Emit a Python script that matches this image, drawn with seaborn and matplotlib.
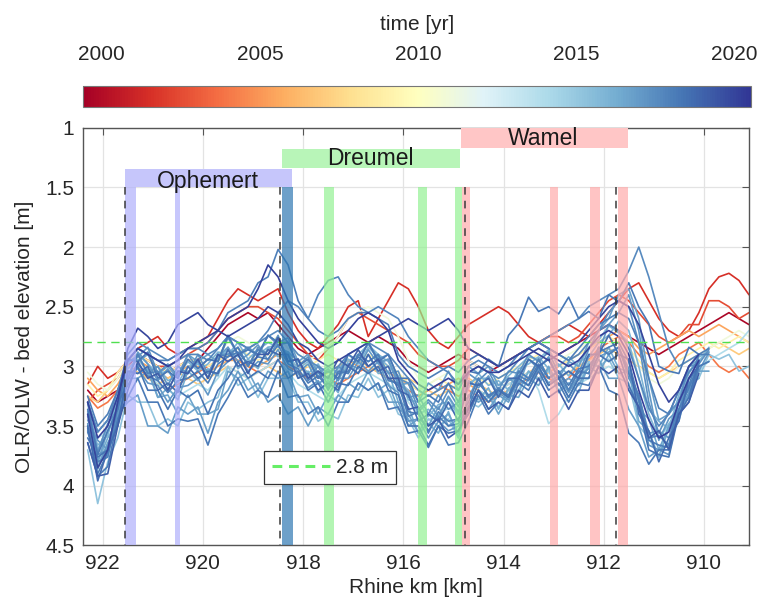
import numpy as np
import pandas as pd
import matplotlib
matplotlib.use("Agg")
import matplotlib.pyplot as plt
import seaborn as sns
from matplotlib.lines import Line2D
from matplotlib.colors import Normalize
from matplotlib.cm import ScalarMappable

N = np.nan

# ---------------- data ----------------
km = [922.3, 922.1, 921.9, 921.7, 921.5, 921.3, 921.1, 920.9, 920.7, 920.5, 920.3,
      920.1, 919.9, 919.7, 919.5, 919.3, 919.1, 918.9, 918.7, 918.5, 918.3,
      918.1, 917.9, 917.7, 917.5, 917.3, 917.1, 916.9, 916.7, 916.5, 916.3,
      916.1, 915.9, 915.7, 915.5, 915.3, 915.1, 914.9, 914.7, 914.5, 914.3,
      914.1, 913.9, 913.7, 913.5, 913.3, 913.1, 912.9, 912.7, 912.5, 912.3,
      912.1, 911.9, 911.7, 911.5, 911.3, 911.1, 910.9, 910.7, 910.5, 910.3,
      910.1, 909.9, 909.7, 909.5, 909.3, 909.1]

years = [1999.7, 2001.5, 2002.5, 2004.0, 2005.5, 2007.0, 2009.0, 2011.0, 2014.0,
         2016.6, 2015.2, 2017.0, 2017.4, 2018.2, 2017.8, 2018.0, 2016.3, 2017.6,
         2017.9, 2018.3, 2018.7, 2020.0, 2019.2, 2016.8, 2017.3, 2020.2, 2016.9,
         2018.4, 2016.0, 2017.1, 2015.9, 2018.1]

depth = [
 # 1999.7
 [3.20, 3.30, 3.25, 3.20, 3.00, 2.90, 2.95, 3.00, 3.05, 3.00, 2.95,
  2.95, 2.85, 2.75, 2.65, 2.60, 2.55, 2.60, 2.55, 2.65, 2.75,
  2.85, 2.90, 2.85, 2.80, 2.75, 2.70, 2.75, 2.80, 2.75, 2.80,
  2.85, 2.95, 3.00, 3.05, 3.00, 2.95, 2.90, 2.95, 3.00, 3.05,
  3.00, 2.95, 2.90, 2.85, 2.80, 2.85, 2.90, 2.85, 2.80, 2.75,
  2.70, 2.65, 2.70, 2.75, 2.80, 2.85, 2.90, 2.85, 2.80, 2.75,
  2.70, 2.65, 2.60, 2.55, 2.60, 2.65],
 # 2001.5
 [3.15, 3.00, 3.10, 3.05, 2.95, 2.85, 2.80, 2.75, 2.85, 2.90, 2.85,
  2.80, 2.75, 2.60, 2.45, 2.35, 2.40, 2.45, 2.40, 2.35, 2.55,
  2.70, 2.80, 2.85, 2.75, 2.65, 2.50, 2.45, 2.75, 2.60, 2.45,
  2.30, 2.35, 2.50, 2.70, 2.80, 2.85, 2.75, 2.65, 2.60, 2.55,
  2.50, 2.55, 2.65, 2.75, 2.80, 2.75, 2.70, 2.65, 2.70, 2.75,
  2.65, 2.55, 2.45, 2.35, 2.30, 2.45, 2.60, 2.70, 2.75, 2.70,
  2.55, 2.35, 2.25, 2.22, 2.28, 2.40],
 # 2002.5
 [3.30, 3.20, 3.15, 3.10, 2.95, 2.90, 2.95, 3.00, 3.00, 2.95, 2.90,
  2.85, 2.80, 2.70, 2.60, 2.55, 2.50, 2.50, 2.55, 2.60, 2.70,
  2.80, 2.90, 2.95, 2.85, 2.75, 2.60, 2.55, 2.60, 2.65, 2.70,
  2.75, 2.80, 2.90, 2.95, 3.00, 3.00, 2.95, 2.85, 2.90, 2.95,
  3.00, 2.95, 2.90, 2.85, 2.80, 2.75, 2.75, 2.80, 2.75, 2.65,
  2.55, 2.45, 2.40, 2.45, 2.55, 2.65, 2.75, 2.80, 2.75, 2.65,
  2.65, 2.45, 2.45, 2.50, 2.60, 2.55],
 # 2004.0
 [3.25, 3.35, 3.30, 3.20, 3.05, 3.00, 3.10, 3.15, 3.20, 3.15, 3.10,
  3.05, 3.00, 2.95, 2.90, 2.95, 3.00, 3.05, 3.00, 2.95, 3.00,
  3.05, 3.10, 3.05, 3.10, 3.15, 3.10, 3.05, 3.00, 3.05, 3.10,
  3.15, 3.20, 3.25, 3.20, 3.15, 3.20, 3.25, 3.20, 3.25, 3.30,
  3.25, 3.20, 3.15, 3.10, 3.05, 3.10, 3.15, 3.10, 3.00, 2.95,
  2.85, 2.80, 2.75, 2.80, 2.90, 3.00, 3.05, 3.00, 2.90, 2.85,
  2.80, 2.90, 3.00, 3.05, 3.00, 3.10],
 # 2005.5
 [3.10, 3.20, 3.25, 3.15, 3.00, 2.95, 3.00, 3.05, 3.10, 3.05, 3.00,
  3.00, 3.05, 3.00, 2.95, 2.95, 3.00, 3.00, 2.95, 2.90, 2.95,
  3.00, 3.05, 3.10, 3.05, 3.00, 2.95, 3.00, 3.05, 3.00, 3.05,
  3.10, 3.15, 3.20, 3.25, 3.20, 3.15, 3.10, 3.15, 3.20, 3.25,
  3.20, 3.15, 3.10, 3.05, 3.10, 3.05, 3.00, 2.95, 2.90, 2.85,
  2.80, 2.75, 2.70, 2.75, 2.85, 2.90, 2.85, 2.80, 2.75, 2.70,
  2.75, 2.70, 2.65, 2.70, 2.75, 2.80],
 # 2007.0
 [3.25, 3.30, 3.20, 3.10, 3.00, 3.05, 3.10, 3.15, 3.10, 3.05, 3.10,
  3.15, 3.10, 3.05, 3.00, 3.05, 3.10, 3.05, 3.00, 3.05, 3.10,
  3.05, 3.00, 3.05, 3.10, 3.05, 3.00, 2.95, 3.00, 3.05, 3.10,
  3.15, 3.10, 3.15, 3.20, 3.25, 3.20, 3.15, 3.10, 3.15, 3.20,
  3.25, 3.20, 3.10, 3.05, 3.00, 3.05, 3.10, 3.05, 3.00, 2.95,
  2.90, 2.85, 2.90, 2.95, 3.00, 3.05, 3.10, 3.05, 3.00, 2.95,
  2.90, 2.85, 2.80, 2.85, 2.90, 2.85],
 # 2009.0
 [3.15, 3.25, 3.20, 3.05, 2.95, 2.90, 2.95, 3.00, 3.05, 3.00, 2.95,
  2.95, 3.00, 2.95, 2.90, 2.85, 2.90, 2.95, 2.90, 2.85, 2.90,
  2.95, 3.00, 2.95, 2.90, 2.95, 3.00, 2.95, 2.90, 2.95, 3.00,
  3.05, 3.15, 3.20, 3.15, 3.10, 3.15, 3.20, 3.15, 3.10, 3.15,
  3.10, 3.05, 3.00, 2.95, 2.90, 2.95, 3.00, 2.95, 2.90, 2.85,
  2.80, 2.75, 2.80, 2.85, 2.95, 3.05, 3.10, 3.05, 2.95, 2.90,
  2.85, 2.80, 2.85, 2.80, 2.75, 2.80],
 # 2011.0
 [3.05, 3.15, 3.20, 3.10, 2.95, 2.85, 2.90, 2.95, 3.00, 2.95, 2.90,
  2.90, 2.95, 2.90, 2.80, 2.75, 2.80, 2.85, 2.80, 2.75, 2.85,
  2.90, 2.95, 2.90, 2.85, 2.75, 2.60, 2.55, 2.50, 2.55, 2.60,
  2.75, 2.95, 3.10, 3.15, 3.10, 3.05, 3.00, 2.95, 3.00, 3.05,
  3.05, 3.00, 2.95, 2.90, 2.85, 2.90, 2.95, 2.90, 2.85, 2.80,
  2.75, 2.80, 2.85, 2.90, 3.00, 3.10, 3.15, 3.10, 3.00, 2.95,
  2.90, 2.85, 2.80, 2.75, 2.70, 2.75],
 # 2014.0
 [3.40, 3.60, 3.55, 3.35, 3.10, 3.00, 3.05, 3.15, 3.20, 3.25, 3.20,
  3.15, 3.20, 3.10, 3.00, 3.05, 3.10, 3.05, 3.00, 2.95, 3.05,
  3.15, 3.20, 3.25, 3.30, 3.25, 3.15, 3.10, 3.05, 3.10, 3.15,
  3.20, 3.30, 3.40, 3.45, 3.40, 3.35, 3.40, 3.25, 3.20, 3.25,
  3.20, 3.15, 3.10, 3.05, 3.20, 3.48, 3.40, 3.25, 3.15, 3.10,
  3.05, 3.00, 3.05, 3.15, 3.35, 3.55, 3.60, 3.50, 3.30, 3.15,
  3.05, 2.95, 2.90, 2.85, 2.80, 2.70],
 # 2016.6
 [3.50, 3.84, 3.64, 3.50, 3.10, 3.10, 3.04, 3.26, 3.24, 3.40, 3.24,
  3.40, 3.40, 3.36, 3.04, 3.10, 3.04, 3.20, 3.04, 3.10, 3.04,
  3.26, 3.24, 3.40, 3.24, 3.30, 3.14, 3.20, 3.04, 3.20, 3.14,
  3.36, 3.40, 3.56, 3.40, 3.46, 3.40, 3.56, 3.24, 3.30, 3.24,
  3.40, 3.24, 3.26, 3.10, 3.16, 3.00, 3.16, 3.10, 3.16, 3.00,
  3.06, 2.90, 3.06, 3.04, 3.36, 3.44, 3.70, 3.50, 3.40, 3.24,
  3.04, 3.04, N, N, N, N],
 # 2015.2
 [3.70, 4.15, 3.80, 3.60, 3.24, 3.30, 3.30, 3.50, 3.44, 3.50, 3.30,
  3.36, 3.30, 3.26, 3.00, 3.16, 3.10, 3.26, 3.10, 3.10, 3.10,
  3.30, 3.30, 3.46, 3.40, 3.44, 3.24, 3.26, 3.10, 3.26, 3.20,
  3.40, 3.44, 3.60, 3.44, 3.50, 3.44, 3.60, 3.30, 3.34, 3.26,
  3.34, 3.20, 3.20, 3.04, 3.10, 3.04, 3.20, 3.14, 3.16, 2.96,
  3.00, 2.94, 3.10, 3.14, 3.50, 3.60, 3.76, 3.50, 3.40, 3.16,
  3.10, 2.90, 2.94, 2.90, 3.04, 3.00],
 # 2017.0
 [3.45, 3.62, 3.70, 3.30, 3.10, 2.88, 2.98, 3.12, 3.02, 3.18, 3.05,
  2.96, 3.10, 2.92, 2.84, 2.96, 2.90, 2.82, 2.95, 2.78, 2.92,
  3.05, 2.98, 3.15, 3.08, 3.18, 2.98, 3.02, 2.86, 2.98, 2.94,
  3.14, 3.22, 3.38, 3.30, 3.42, 3.25, 3.38, 3.12, 3.18, 3.08,
  3.24, 3.12, 3.08, 2.94, 3.02, 2.92, 3.10, 3.04, 3.12, 2.92,
  2.88, 2.65, 2.55, 2.40, 2.70, 3.20, 3.62, 3.44, 3.36, 3.10,
  3.04, 2.88, N, N, N, N],
 # 2017.4
 [3.30, 3.72, 3.48, 3.36, 2.96, 2.92, 2.84, 3.06, 2.98, 3.08, 2.90,
  3.02, 2.94, 2.96, 2.76, 2.90, 2.84, 2.92, 2.74, 2.82, 2.80,
  3.00, 2.92, 3.10, 3.02, 3.12, 2.90, 2.96, 2.80, 2.94, 2.90,
  3.10, 3.14, 3.36, 3.28, 3.36, 3.20, 3.34, 3.06, 3.12, 3.04,
  3.20, 3.04, 3.06, 2.90, 2.96, 2.88, 3.06, 2.98, 3.06, 2.86,
  2.70, 2.55, 2.45, 2.50, 2.80, 3.30, 3.56, 3.38, 3.30, 3.00,
  2.98, 2.86, N, N, N, N],
 # 2018.2
 [3.64, 3.92, 3.84, 3.44, 3.26, 3.10, 3.30, 3.30, 3.50, 3.44, 3.46,
  3.44, 3.66, 3.40, 3.26, 3.10, 3.26, 3.20, 3.26, 3.04, 3.26,
  3.24, 3.40, 3.34, 3.50, 3.30, 3.30, 3.14, 3.20, 3.14, 3.36,
  3.34, 3.56, 3.54, 3.68, 3.50, 3.66, 3.64, 3.46, 3.24, 3.40,
  3.30, 3.36, 3.14, 3.20, 3.04, 3.20, 3.14, 3.30, 3.14, 3.16,
  3.00, 3.20, 3.24, 3.56, 3.64, 3.82, 3.70, 3.70, 3.40, 3.30,
  3.00, 2.96, N, N, N, N],
 # 2017.8
 [3.30, 3.55, 3.45, 3.25, 2.95, 2.85, 2.90, 2.95, 3.00, 2.95, 2.90,
  2.90, 2.95, 2.85, 2.75, 2.80, 2.85, 2.80, 2.70, 2.55, 2.45,
  2.50, 2.60, 2.40, 2.28, 2.25, 2.40, 2.50, 2.55, 2.50, 2.55,
  2.60, 2.75, 2.85, 2.95, 3.00, 3.05, 3.15, 3.00, 2.95, 3.00,
  3.05, 3.00, 2.90, 2.85, 2.80, 2.85, 2.90, 2.95, 2.90, 2.80,
  2.70, 2.65, 2.70, 2.85, 3.10, 3.35, 3.50, 3.40, 3.20, 3.05,
  2.95, N, N, N, N, N],
 # 2018.0
 [3.25, 3.50, 3.40, 3.20, 2.95, 2.85, 2.90, 2.95, 2.95, 2.90, 2.85,
  2.85, 2.80, 2.70, 2.55, 2.50, 2.45, 2.30, 2.25, 2.02, 2.15,
  2.45, 2.60, 2.70, 2.75, 2.70, 2.60, 2.55, 2.55, 2.60, 2.65,
  2.90, 3.00, 3.05, 3.10, 3.05, 3.00, 3.05, 2.95, 2.90, 2.95,
  3.00, 2.95, 2.90, 2.85, 2.80, 2.85, 2.90, 2.95, 2.85, 2.75,
  2.65, 2.60, 2.55, 2.60, 2.80, 3.10, 3.35, 3.40, 3.20, 3.00,
  2.90, 2.85, N, N, N, N],
 # 2016.3
 [3.40, 3.80, 3.60, 3.46, 3.04, 3.06, 3.02, 3.26, 3.18, 3.28, 3.04,
  3.12, 3.02, 3.08, 2.84, 3.02, 2.94, 3.02, 2.84, 2.92, 2.88,
  3.10, 3.04, 3.22, 3.12, 3.22, 2.98, 3.06, 2.90, 3.06, 3.04,
  3.30, 3.34, 3.56, 3.48, 3.56, 3.38, 3.60, 3.24, 3.28, 3.18,
  3.36, 3.18, 3.22, 3.04, 3.12, 3.02, 3.22, 3.14, 3.22, 2.98,
  3.00, 2.84, 3.02, 3.04, 3.46, 3.54, 3.76, 3.52, 3.46, 3.14,
  3.10, N, N, N, N, N],
 # 2017.6
 [3.30, 3.55, 3.45, 3.20, 2.90, 2.80, 2.85, 2.90, 2.95, 2.90, 2.85,
  2.85, 2.90, 2.85, 2.75, 2.80, 2.85, 2.80, 2.75, 2.70, 2.80,
  2.90, 2.95, 3.00, 3.05, 3.00, 2.90, 2.85, 2.80, 2.85, 2.90,
  3.00, 3.10, 3.20, 3.25, 3.20, 3.15, 3.20, 3.05, 3.00, 3.05,
  3.10, 3.05, 2.95, 2.85, 2.80, 2.75, 2.70, 2.65, 2.60, 2.50,
  2.45, 2.40, 2.35, 2.20, 2.00, 2.25, 2.55, 2.85, 3.00, 2.95,
  2.90, N, N, N, N, N],
 # 2017.9
 [3.55, 3.80, 3.76, 3.34, 3.10, 2.90, 3.06, 3.04, 3.20, 3.04, 3.06,
  2.94, 3.10, 2.90, 2.92, 2.84, 3.00, 2.86, 2.90, 2.76, 2.96,
  2.94, 3.12, 3.04, 3.20, 3.04, 3.06, 2.90, 2.96, 2.90, 3.12,
  3.14, 3.42, 3.38, 3.56, 3.38, 3.46, 3.44, 3.30, 3.10, 3.26,
  3.18, 3.26, 3.04, 3.10, 2.94, 3.10, 3.04, 3.20, 3.04, 3.06,
  2.84, 2.90, 2.84, 3.06, 3.24, 3.60, 3.58, 3.66, 3.28, 3.16,
  2.90, 2.90, N, N, N, N],
 # 2018.3
 [3.36, 3.74, 3.54, 3.36, 2.94, 2.96, 2.88, 3.10, 3.04, 3.10, 2.94,
  3.02, 2.94, 2.96, 2.74, 2.90, 2.86, 2.90, 2.74, 2.80, 2.80,
  3.00, 2.94, 3.10, 3.04, 3.10, 2.90, 2.96, 2.80, 2.96, 2.90,
  3.10, 3.10, 3.30, 3.24, 3.30, 3.14, 3.30, 3.04, 3.06, 2.94,
  3.00, 2.74, 2.64, 2.42, 2.54, 2.50, 2.56, 2.42, 2.60, 2.54,
  2.60, 2.40, 2.46, 2.30, 2.50, 2.64, 3.00, 3.04, 3.06, 2.84,
  2.90, N, N, N, N, N],
 # 2018.7
 [3.50, 3.96, 3.70, 3.50, 3.04, 3.06, 3.00, 3.20, 3.14, 3.22, 3.00,
  3.10, 3.04, 3.06, 2.86, 3.00, 2.96, 3.00, 2.86, 2.90, 2.90,
  3.10, 3.06, 3.20, 3.14, 3.20, 3.00, 3.06, 2.90, 3.04, 3.00,
  3.20, 3.24, 3.46, 3.40, 3.46, 3.30, 3.46, 3.14, 3.16, 3.10,
  3.26, 3.10, 3.10, 2.94, 3.00, 2.94, 3.10, 3.04, 3.10, 2.90,
  2.90, 2.74, 2.90, 2.94, 3.40, 3.54, 3.80, 3.60, 3.46, 3.10,
  3.00, N, N, N, N, N],
 # 2020.0
 [3.40, 3.85, 3.70, 3.30, 2.85, 2.68, 2.75, 2.85, 2.80, 2.65, 2.60,
  2.55, 2.65, 2.70, 2.75, 2.70, 2.65, 2.60, 2.50, 2.55, 2.65,
  2.80, 2.85, 2.95, 3.00, 2.95, 2.90, 2.85, 2.80, 2.75, 2.70,
  2.65, 2.60, 2.65, 2.70, 2.65, 2.60, 2.70, 2.85, 2.90, 2.95,
  3.00, 2.95, 2.90, 2.85, 2.90, 2.95, 2.90, 2.85, 2.80, 2.70,
  2.60, 2.50, 2.45, 2.50, 2.65, 2.90, 3.15, 3.30, 3.20, 3.00,
  2.90, N, N, N, N, N],
 # 2019.2
 [3.64, 3.92, 3.90, 3.50, 3.20, 2.96, 3.10, 3.06, 3.20, 3.04, 3.06,
  2.94, 3.10, 2.90, 2.96, 2.90, 3.06, 2.90, 2.90, 2.76, 2.96,
  2.94, 3.10, 3.04, 3.10, 2.94, 3.00, 2.86, 3.00, 2.94, 3.10,
  3.10, 3.36, 3.34, 3.50, 3.44, 3.60, 3.54, 3.36, 3.20, 3.36,
  3.30, 3.36, 3.20, 3.26, 3.10, 3.26, 3.20, 3.36, 3.20, 3.20,
  3.00, 3.06, 3.00, 3.20, 3.34, 3.60, 3.54, 3.70, 3.40, 3.30,
  3.06, N, N, N, N, N],
 # 2016.8
 [3.30, 3.80, 3.54, 3.40, 2.94, 2.96, 2.90, 3.06, 3.00, 3.10, 2.90,
  2.96, 2.90, 2.96, 2.74, 2.90, 2.84, 2.90, 2.74, 2.80, 2.76,
  2.96, 2.90, 3.06, 3.00, 3.06, 2.90, 2.96, 2.80, 2.96, 2.94,
  3.16, 3.14, 3.30, 3.14, 3.20, 3.04, 3.20, 3.00, 3.06, 3.00,
  3.16, 3.10, 3.16, 2.94, 3.00, 2.94, 3.10, 2.96, 3.00, 2.80,
  2.70, 2.60, 2.40, 2.35, 2.60, 3.10, 3.45, 3.40, 3.30, 3.00,
  2.94, N, N, N, N, N],
 # 2017.3
 [3.50, 3.74, 3.70, 3.34, 3.10, 2.90, 3.06, 3.00, 3.16, 3.00, 3.06,
  2.90, 3.06, 2.90, 2.90, 2.84, 3.00, 2.84, 2.90, 2.74, 2.96,
  2.94, 3.10, 3.00, 3.16, 3.00, 3.06, 2.90, 2.96, 2.90, 3.06,
  3.04, 3.26, 3.24, 3.40, 3.24, 3.36, 3.30, 3.26, 3.10, 3.26,
  3.20, 3.26, 3.04, 3.10, 2.94, 3.10, 3.04, 3.20, 3.04, 3.06,
  2.84, 2.90, 2.84, 3.10, 3.24, 3.56, 3.54, 3.60, 3.30, 3.20,
  2.96, N, N, N, N, N],
 # 2020.2
 [3.30, 3.60, 3.50, 3.25, 2.95, 2.85, 2.90, 2.95, 3.00, 2.95, 2.85,
  2.80, 2.75, 2.70, 2.60, 2.55, 2.50, 2.35, 2.15, 2.25, 2.45,
  2.60, 2.70, 2.80, 2.85, 2.80, 2.70, 2.60, 2.55, 2.60, 2.70,
  2.95, 3.05, 3.15, 3.20, 3.15, 3.10, 3.15, 3.05, 3.00, 3.05,
  3.05, 3.00, 2.95, 2.90, 2.85, 2.90, 2.95, 3.00, 2.95, 2.85,
  2.75, 2.70, 2.75, 2.90, 3.20, 3.45, 3.60, 3.55, 3.30, 3.10,
  2.95, N, N, N, N, N],
 # 2016.9
 [3.54, 3.80, 3.76, 3.40, 3.30, 3.24, 3.50, 3.50, 3.56, 3.34, 3.40,
  3.34, 3.56, 3.30, 3.20, 3.04, 3.20, 3.14, 3.30, 3.24, 3.40,
  3.34, 3.50, 3.34, 3.40, 3.24, 3.30, 3.14, 3.20, 3.14, 3.30,
  3.30, 3.50, 3.44, 3.50, 3.34, 3.50, 3.44, 3.36, 3.20, 3.36,
  3.24, 3.30, 3.10, 3.16, 3.00, 3.16, 3.10, 3.26, 3.10, 3.10,
  2.94, 3.10, 3.10, 3.36, 3.50, 3.76, 3.70, 3.66, 3.36, 3.26,
  3.00, 2.96, N, N, N, N],
 # 2018.4
 [3.60, 3.76, 3.70, 3.30, 3.16, 3.00, 3.20, 3.20, 3.36, 3.20, 3.26,
  3.20, 3.40, 3.20, 3.10, 2.96, 3.10, 3.04, 3.10, 2.94, 3.10,
  3.04, 3.20, 3.14, 3.30, 3.14, 3.16, 3.00, 3.06, 3.00, 3.20,
  3.24, 3.50, 3.50, 3.66, 3.50, 3.56, 3.54, 3.40, 3.20, 3.30,
  3.20, 3.26, 3.10, 3.16, 3.00, 3.16, 3.10, 3.26, 3.10, 3.10,
  2.90, 2.96, 2.90, 3.16, 3.34, 3.70, 3.74, 3.76, 3.40, 3.26,
  2.96, N, N, N, N, N],
 # 2016.0
 [3.42, 3.66, 3.58, 3.28, 3.02, 2.94, 3.04, 3.00, 3.12, 3.08, 2.96,
  3.04, 2.98, 2.88, 2.90, 2.80, 2.94, 2.86, 2.80, 2.84, 2.88,
  2.96, 3.06, 2.98, 3.12, 3.02, 2.94, 2.98, 2.84, 2.92, 3.00,
  3.08, 3.28, 3.30, 3.42, 3.32, 3.30, 3.40, 3.18, 3.06, 3.16,
  3.12, 3.20, 3.02, 2.98, 2.92, 3.02, 2.98, 3.08, 2.96, 2.92,
  2.80, 2.74, 2.62, 2.70, 3.00, 3.36, 3.46, 3.52, 3.24, 3.06,
  2.92, 2.88, N, N, N, N],
 # 2017.1
 [3.48, 3.86, 3.66, 3.42, 3.06, 3.02, 3.14, 3.16, 3.30, 3.18, 3.16,
  3.10, 3.24, 3.04, 2.96, 2.90, 3.04, 2.96, 2.98, 2.86, 3.02,
  3.06, 3.18, 3.12, 3.24, 3.10, 3.10, 2.96, 3.04, 2.96, 3.16,
  3.22, 3.46, 3.44, 3.60, 3.46, 3.54, 3.50, 3.40, 3.20, 3.30,
  3.22, 3.28, 3.12, 3.16, 3.02, 3.14, 3.08, 3.22, 3.08, 3.02,
  2.92, 2.88, 2.84, 3.02, 3.30, 3.66, 3.70, 3.74, 3.38, 3.22,
  3.02, N, N, N, N, N],
 # 2015.9
 [3.38, 3.70, 3.50, 3.30, 2.98, 2.90, 2.98, 3.06, 3.04, 3.14, 3.00,
  2.98, 3.06, 2.92, 2.86, 2.92, 2.86, 2.90, 2.84, 2.82, 2.90,
  3.02, 2.96, 3.08, 3.04, 3.12, 2.96, 2.90, 2.82, 2.90, 2.96,
  3.12, 3.20, 3.40, 3.36, 3.44, 3.26, 3.40, 3.14, 3.10, 3.10,
  3.16, 3.08, 3.00, 2.92, 2.94, 2.86, 3.00, 2.92, 3.00, 2.84,
  2.78, 2.66, 2.72, 2.80, 3.10, 3.40, 3.60, 3.48, 3.38, 3.04,
  2.96, 2.84, N, N, N, N],
 # 2018.1
 [3.52, 3.90, 3.72, 3.46, 3.12, 2.98, 3.08, 3.12, 3.22, 3.12, 3.10,
  3.04, 3.14, 2.98, 2.92, 2.88, 2.98, 2.92, 2.94, 2.82, 2.98,
  3.02, 3.14, 3.08, 3.18, 3.06, 3.04, 2.92, 3.00, 2.94, 3.10,
  3.16, 3.38, 3.40, 3.54, 3.42, 3.50, 3.48, 3.34, 3.14, 3.24,
  3.20, 3.24, 3.08, 3.12, 2.98, 3.10, 3.04, 3.16, 3.02, 3.00,
  2.88, 2.84, 2.80, 2.96, 3.28, 3.62, 3.66, 3.68, 3.36, 3.18,
  2.98, N, N, N, N, N],
]

threshold = 2.8
cbar_ticks = [2000, 2005, 2010, 2015, 2020]
xticks = [922, 920, 918, 916, 914, 912, 910]
yticks = [1, 1.5, 2, 2.5, 3, 3.5, 4, 4.5]
ytick_labels = ["1", "1.5", "2", "2.5", "3", "3.5", "4", "4.5"]

# site annotation extents (km)
sites = {
    "Ophemert": dict(span=(921.55, 918.22), band=(1.35, 1.5), text=(919.9, 1.45),
                     color="#c6c6fb", bar="#b0b0fb",
                     bars=[(921.55, 921.34), (920.56, 920.45)]),
    "Dreumel": dict(span=(918.43, 914.86), band=(1.18, 1.34), text=(916.65, 1.26),
                    color="#b8f5b8", bar="#93f193",
                    bars=[(917.58, 917.39), (915.71, 915.53), (914.96, 914.83)]),
    "Wamel": dict(span=(914.85, 911.51), band=(1.0, 1.17), text=(913.2, 1.09),
                  color="#ffc6c6", bar="#ffabab",
                  bars=[(914.83, 914.66), (913.08, 912.91), (912.28, 912.07), (911.71, 911.51)]),
}
overlap_bar = (918.42, 918.21)
dashed_km = [921.55, 918.46, 914.76, 911.75]

# ---------------- build table ----------------
rows = []
for yr, prof in zip(years, depth):
    assert len(prof) == len(km), (yr, len(prof))
    for k, d in zip(km, prof):
        if not np.isnan(d):
            rows.append((k, d, yr))
df = pd.DataFrame(rows, columns=["km", "depth", "year"])

# ---------------- style ----------------
sns.set_theme(style="white")
plt.rcParams["font.family"] = ["Liberation Sans", "DejaVu Sans"]
plt.rcParams["text.color"] = "#262626"
plt.rcParams["axes.labelcolor"] = "#262626"
plt.rcParams["xtick.color"] = "#262626"
plt.rcParams["ytick.color"] = "#262626"

vmin, vmax = 1999.41, 2020.54
cmap = plt.get_cmap("RdYlBu")
norm = Normalize(vmin=vmin, vmax=vmax)

fig = plt.figure(figsize=(7.6, 6.15), dpi=100)
ax = fig.add_axes([0.1088, 0.1133, 0.8767, 0.679])

sns.lineplot(data=df, x="km", y="depth", hue="year", units="year", estimator=None,
             palette=cmap, hue_norm=norm, sort=False, legend=False, lw=1.2,
             ax=ax, zorder=2)

ax.axhline(threshold, color="#4fdf4f", ls=(0, (6, 4)), lw=1.0, zorder=2.6)

for name, s in sites.items():
    a, b = s["span"]
    ax.fill_between([a, b], s["band"][0], s["band"][1], color=s["color"], lw=0, zorder=3)
    ax.text(s["text"][0], s["text"][1], name, ha="center", va="center",
            fontsize=16.5, color="#1a1a1a", zorder=5)
    for (p, q) in s["bars"]:
        ax.fill_between([p, q], 1.5, 4.5, color=s["bar"], alpha=0.7, lw=0, zorder=3)
ax.fill_between(list(overlap_bar), 1.5, 4.5, color="#2f78b2", alpha=0.7, lw=0, zorder=3)

for xk in dashed_km:
    ax.plot([xk, xk], [1.5, 4.5], color="#3a3a3a", ls=(0, (5, 4)), lw=1.1, zorder=4)

ax.set_xlim(922.4, 909.1)
ax.set_ylim(4.5, 1.0)
ax.set_xticks(xticks)
ax.set_xticklabels([str(x) for x in xticks])
ax.set_yticks(yticks)
ax.set_yticklabels(ytick_labels)
ax.grid(True, color="#e3e3e3", lw=0.9, zorder=0)
ax.set_axisbelow(True)
ax.tick_params(axis="both", which="both", direction="in", length=5, width=0.8,
               top=True, right=True, labelsize=15, pad=6, color="#555555")
for sp in ax.spines.values():
    sp.set_color("#555555")
    sp.set_linewidth(1.0)
ax.set_xlabel("Rhine km [km]", fontsize=15, labelpad=4)
ax.set_ylabel("OLR/OLW - bed elevation [m]", fontsize=15, labelpad=8)

handle = Line2D([], [], color="#66ee66", ls=(0, (3.2, 2.2)), lw=2.2)
leg = ax.legend([handle], [f"{threshold} m"], loc="lower left",
                bbox_to_anchor=(0.2726, 0.146), fontsize=15, frameon=True,
                fancybox=False, framealpha=1, edgecolor="#333333",
                handlelength=2.8, handletextpad=0.3, borderpad=0.35,
                borderaxespad=0)
leg.get_frame().set_linewidth(0.9)
leg.set_zorder(6)

# colorbar
cax = fig.add_axes([0.1095, 0.826, 0.879, 0.034])
sm = ScalarMappable(norm=norm, cmap=cmap)
cb = fig.colorbar(sm, cax=cax, orientation="horizontal", ticks=cbar_ticks)
cax.xaxis.set_ticks_position("top")
cax.xaxis.set_label_position("top")
cax.tick_params(direction="in", length=5, width=0.8, labelsize=15, pad=16,
                color="#333333")
cb.outline.set_edgecolor("#777777")
cb.outline.set_linewidth(0.8)
cb.set_label("time [yr]", fontsize=15, labelpad=11)

fig.savefig("out.png", dpi=100)
